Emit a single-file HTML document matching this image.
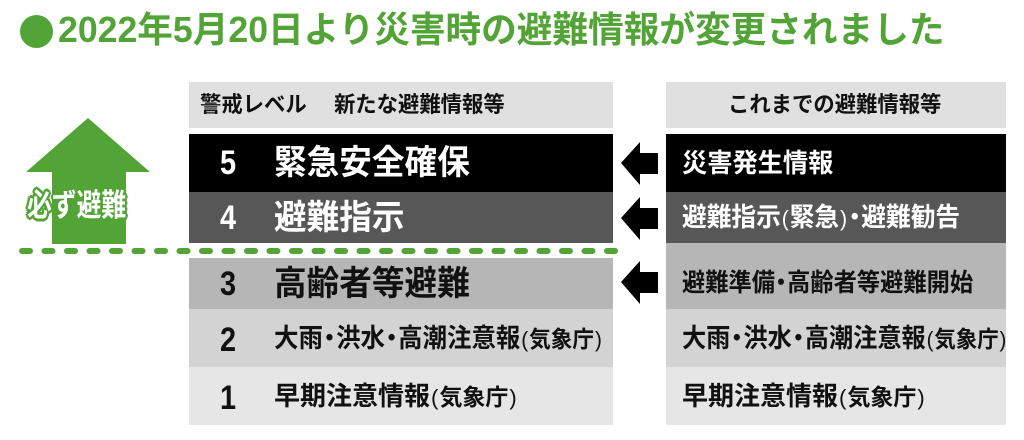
<!DOCTYPE html>
<html><head><meta charset="utf-8"><style>
body{margin:0;width:1024px;height:440px;background:#fff;position:relative;overflow:hidden;font-family:"Liberation Sans","Noto Sans CJK JP",sans-serif;font-weight:bold}
.a{position:absolute}
.t{position:absolute;white-space:nowrap;transform-origin:0 50%;line-height:1}
.box{position:absolute}
.p{font-family:"Liberation Sans",sans-serif;font-weight:normal;font-size:0.85em;margin:0 1px}
</style></head><body>
<div class="a" style="left:20px;top:15px;width:33px;height:33px;border-radius:50%;background:#52a436"></div>
<div class="t" style="left:58px;top:12px;font-size:36px;color:#52a436;transform:scaleX(0.99)">2022年5月20日より災害時の避難情報が変更されました</div>

<div class="box" style="left:189px;top:82px;width:424px;height:46px;background:#e0e0e0"></div>
<div class="box" style="left:189px;top:134px;width:424px;height:58px;background:#000"></div>
<div class="box" style="left:189px;top:192px;width:424px;height:51px;background:#575757"></div>
<div class="box" style="left:189px;top:258px;width:424px;height:51px;background:#b5b6b5"></div>
<div class="box" style="left:189px;top:309px;width:424px;height:58px;background:#d3d3d3"></div>
<div class="box" style="left:189px;top:367px;width:424px;height:58px;background:#e6e6e6"></div>

<div class="box" style="left:666px;top:82px;width:340px;height:46px;background:#e0e0e0"></div>
<div class="box" style="left:666px;top:134px;width:340px;height:58px;background:#000"></div>
<div class="box" style="left:666px;top:192px;width:340px;height:51px;background:#575757"></div>
<div class="box" style="left:666px;top:243px;width:340px;height:66px;background:#b5b6b5"></div>
<div class="box" style="left:666px;top:309px;width:340px;height:58px;background:#d3d3d3"></div>
<div class="box" style="left:666px;top:367px;width:340px;height:58px;background:#e6e6e6"></div>

<svg class="a" style="left:0;top:0" width="1024" height="440">
<polygon points="88,118 150,172 126,172 126,244 52,244 52,172 26,172" fill="#52a436"/>
<line x1="22" y1="251" x2="615" y2="251" stroke="#52a436" stroke-width="6" stroke-linecap="round" stroke-dasharray="8,14.5"/>
<g fill="#000">
<polygon points="621,163 640,142 640,153 658,153 658,174 640,174 640,185"/>
<polygon points="621,218 640,197 640,208 658,208 658,229 640,229 640,240"/>
<polygon points="621,282 640,261 640,272 658,272 658,293 640,293 640,304"/>
</g>
</svg>
<div class="t" style="left:27px;top:190px;font-size:31px;color:#fff;transform:scaleX(0.8);text-shadow:0 0 3px #52a436,2px 2px 0 #52a436,-2px -2px 0 #52a436,2px -2px 0 #52a436,-2px 2px 0 #52a436,3px 0 0 #52a436,-3px 0 0 #52a436,0 3px 0 #52a436,0 -3px 0 #52a436">必ず避難</div>

<div class="t" style="left:200px;top:94px;font-size:22px;color:#111;transform:scaleX(0.97)">警戒レベル　 新たな避難情報等</div>
<div class="t" style="left:220px;top:146px;font-size:34px;color:#fff;transform:scaleX(0.85)">5</div>
<div class="t" style="left:274px;top:146px;font-size:34px;color:#fff;transform:scaleX(0.96)">緊急安全確保</div>
<div class="t" style="left:220px;top:201px;font-size:34px;color:#fff;transform:scaleX(0.85)">4</div>
<div class="t" style="left:274px;top:201px;font-size:34px;color:#fff;transform:scaleX(0.96)">避難指示</div>
<div class="t" style="left:220px;top:267px;font-size:34px;color:#111;transform:scaleX(0.85)">3</div>
<div class="t" style="left:274px;top:267px;font-size:34px;color:#111;transform:scaleX(0.96)">高齢者等避難</div>
<div class="t" style="left:220px;top:323px;font-size:34px;color:#111;transform:scaleX(0.85)">2</div>
<div class="t" style="left:274px;top:325px;font-size:26px;color:#111;transform:scaleX(0.94)">大雨<span style="margin:0 -6px">・</span>洪水<span style="margin:0 -6px">・</span>高潮注意報<span class="p">(</span><span style="font-size:23px">気象庁</span><span class="p">)</span></div>
<div class="t" style="left:220px;top:381px;font-size:34px;color:#111;transform:scaleX(0.85)">1</div>
<div class="t" style="left:274px;top:383px;font-size:26px;color:#111;transform:scaleX(1.0)">早期注意情報<span class="p">(</span><span style="font-size:23px">気象庁</span><span class="p">)</span></div>

<div class="t" style="left:728px;top:94px;font-size:22px;color:#111;transform:scaleX(0.97)">これまでの避難情報等</div>
<div class="t" style="left:682px;top:150px;font-size:26px;color:#fff;transform:scaleX(0.97)">災害発生情報</div>
<div class="t" style="left:682px;top:204px;font-size:26px;color:#fff;transform:scaleX(0.95)">避難指示<span class="p">(</span>緊急<span class="p">)</span><span style="margin:0 -6px">・</span>避難勧告</div>
<div class="t" style="left:682px;top:271px;font-size:25px;color:#111;transform:scaleX(0.93)">避難準備<span style="margin:0 -6px">・</span>高齢者等避難開始</div>
<div class="t" style="left:682px;top:325px;font-size:26px;color:#111;transform:scaleX(0.93)">大雨<span style="margin:0 -6px">・</span>洪水<span style="margin:0 -6px">・</span>高潮注意報<span class="p">(</span><span style="font-size:23px">気象庁</span><span class="p">)</span></div>
<div class="t" style="left:682px;top:383px;font-size:26px;color:#111;transform:scaleX(1.0)">早期注意情報<span class="p">(</span><span style="font-size:23px">気象庁</span><span class="p">)</span></div>
</body></html>
